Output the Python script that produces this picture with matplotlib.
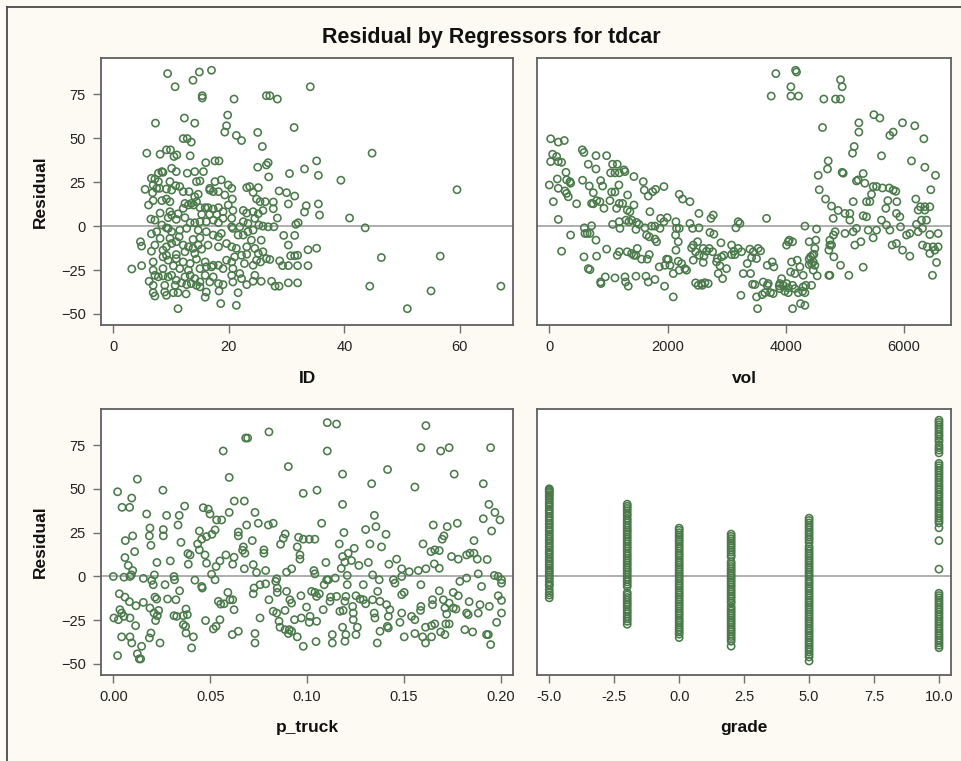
import matplotlib
matplotlib.use("Agg")
import matplotlib.pyplot as plt
from matplotlib.lines import Line2D

# ---------------- data ----------------
# Residual vs ID
ID_POINTS = [
    (9.4, 86.8), (14.9, 87.7), (17.0, 88.7), (13.8, 83.0), (10.7, 79.3), (34.1, 79.3), (15.4, 74.2), (15.4, 72.9),
    (20.9, 72.3), (26.5, 74.2), (27.1, 74.2), (28.4, 72.3), (19.8, 63.2), (12.3, 61.5), (14.1, 58.6), (7.3, 58.6),
    (19.6, 57.1), (19.3, 53.5), (31.3, 56.1), (21.3, 51.6), (22.2, 48.7), (25.0, 53.3), (12.1, 49.8), (12.8, 49.8),
    (13.5, 47.8), (25.8, 45.3), (5.8, 41.5), (8.1, 40.9), (9.2, 43.4), (9.9, 43.4), (10.5, 39.6), (11.0, 40.5),
    (13.3, 40.0), (44.8, 41.5), (59.5, 20.7), (39.4, 26.1), (40.9, 4.6), (43.6, -1.0), (46.4, -17.9), (56.6, -17.1),
    (44.4, -34.2), (55.0, -36.9), (50.9, -47.0), (67.1, -34.2),
    (35.2, 37.1), (33.1, 32.5), (30.5, 29.9), (35.5, 28.9), (25.0, 33.5), (26.5, 34.8), (26.8, 36.1), (16.0, 36.1),
    (17.6, 37.1), (18.3, 37.1), (26.9, 28.0), (28.7, 20.0), (30.0, 19.0), (31.4, 17.1), (30.3, 12.6), (33.4, 11.6),
    (33.1, 8.0), (35.5, 12.6), (35.7, 6.3), (31.6, 1.0), (32.0, 1.9), (31.4, -5.3), (29.5, -5.3), (30.3, -10.8),
    (30.7, -16.9), (31.4, -16.9), (31.9, -16.6), (33.7, -13.5), (35.2, -12.6), (28.8, -19.8), (29.3, -22.5),
    (30.3, -22.5), (31.9, -22.5), (33.7, -22.5), (27.4, -31.4), (28.0, -34.2), (28.7, -34.2), (30.3, -32.3),
    (31.9, -32.3), (25.6, -31.4), (24.2, -31.4), (28.4, 4.6), (27.7, 9.9), (27.7, 13.7),
    (8.4, 31.0), (7.8, 30.1), (8.6, 30.6), (10.1, 32.9), (10.9, 31.0), (12.8, 30.1), (14.1, 31.0), (15.6, 31.0),
    (6.6, 27.2), (7.2, 26.8), (7.8, 25.3), (6.9, 23.4), (7.5, 21.5), (9.8, 25.3), (10.8, 23.0), (11.5, 22.5),
    (14.4, 25.3), (15.0, 25.7), (16.7, 21.5), (17.6, 25.3), (18.7, 26.3), (19.9, 23.4), (20.5, 21.5), (17.3, 19.6),
    (5.5, 20.9), (6.8, 19.0), (8.0, 21.5), (9.2, 21.1), (10.1, 20.5), (12.1, 19.6), (13.1, 19.6), (14.7, 18.1),
    (14.1, 16.7), (12.4, 12.9), (13.5, 12.9), (14.4, 13.9), (6.9, 14.5), (8.4, 14.5), (9.2, 15.4), (9.8, 13.9),
    (6.1, 12.0), (16.7, 20.5), (18.2, 19.6), (19.3, 17.7), (20.6, 15.4), (19.9, 12.0), (23.1, 21.9), (23.6, 22.5),
    (25.1, 21.9), (24.2, 19.2), (24.8, 15.4), (25.4, 13.9), (26.3, 13.9),
    (8.1, 7.4), (9.8, 8.2), (10.1, 6.3), (11.2, 7.0), (12.1, 10.1), (13.0, 12.0), (13.9, 12.0), (15.0, 10.5),
    (15.9, 10.5), (16.4, 10.5), (17.3, 9.7), (18.2, 10.5), (15.3, 6.7), (16.7, 6.7), (17.9, 6.7), (19.0, 8.2),
    (20.7, 8.9), (22.5, 8.9), (23.1, 7.4), (24.2, 8.2), (25.1, 7.0), (25.9, 8.9), (6.5, 4.0),
    (7.2, 3.4), (8.4, 0.6), (9.2, -1.0), (9.5, 4.8), (10.9, 3.8), (12.4, 4.8), (13.3, 1.9), (14.1, 1.9),
    (15.0, 2.5), (16.1, 2.5), (17.3, 3.4), (18.2, 1.9), (19.0, 4.4), (20.5, 4.4), (20.5, -0.4), (21.9, -0.4),
    (22.5, 2.5), (23.3, 1.5), (24.5, 4.4), (25.2, 0.6), (25.9, 0.0), (26.8, -0.4), (27.8, -0.4),
    (6.6, -4.4), (7.5, -3.2), (9.5, -1.3), (10.1, -3.2), (11.5, -2.3), (12.7, -1.3), (14.7, -2.3), (16.1, -3.2),
    (17.3, -5.1), (18.2, -6.1), (18.7, -4.2), (20.7, -1.3), (21.6, -5.1), (22.5, -5.1), (23.3, -3.2), (24.2, -2.3),
    (23.9, -8.0), (25.6, -8.0), (8.1, -7.0), (9.8, -7.0), (11.4, -6.1), (13.8, -7.6), (15.0, -6.7),
    (4.7, -8.9), (4.9, -11.4), (6.6, -14.3), (7.2, -10.8), (8.6, -13.7), (9.2, -11.8), (10.1, -9.9), (10.9, -8.9),
    (12.1, -10.8), (13.0, -11.8), (13.8, -12.7), (14.7, -10.8), (15.3, -13.1), (16.4, -10.8), (18.2, -11.8),
    (19.6, -9.9), (20.5, -11.8), (21.3, -12.7), (23.1, -11.8), (24.5, -12.7), (25.1, -15.6), (25.9, -14.6),
    (23.1, -16.0), (22.2, -16.6), (9.2, -16.6), (10.9, -16.2), (12.4, -14.6), (14.1, -15.6),
    (3.2, -24.4), (4.9, -22.5), (6.9, -20.4), (8.6, -17.5), (9.5, -19.4), (10.9, -18.5), (12.1, -20.4),
    (13.3, -21.3), (14.4, -18.8), (15.9, -20.4), (17.3, -22.3), (18.2, -22.3), (19.6, -19.4), (20.5, -20.4),
    (21.0, -17.5), (22.7, -21.3), (24.2, -22.3), (24.8, -19.4), (25.5, -20.4), (26.5, -18.5), (27.1, -19.0),
    (6.9, -25.1), (8.6, -24.2), (10.4, -22.6), (11.5, -24.2), (13.0, -25.1), (15.0, -24.2), (16.1, -23.2),
    (17.0, -23.2), (19.0, -24.2), (20.7, -24.2),
    (6.2, -31.4), (7.2, -28.0), (7.8, -28.9), (8.6, -28.3), (9.5, -28.9), (10.1, -28.0), (10.9, -30.8),
    (11.8, -32.3), (12.4, -28.9), (13.3, -28.0), (14.1, -29.9), (15.0, -31.8), (15.9, -28.0), (17.3, -28.9),
    (18.2, -32.7), (19.0, -33.3), (20.5, -28.0), (21.9, -27.0), (23.1, -33.3), (24.5, -28.0), (6.9, -33.7),
    (8.9, -33.7), (10.7, -33.7), (12.7, -33.3), (13.5, -32.7), (14.4, -33.7), (16.7, -31.8), (20.7, -31.8),
    (22.2, -29.9),
    (6.9, -37.9), (7.2, -39.8), (8.9, -37.5), (9.2, -39.4), (10.4, -37.9), (11.2, -37.9), (12.6, -38.6),
    (15.0, -34.6), (16.1, -37.5), (15.9, -40.5), (18.3, -36.9), (21.6, -37.9),
    (11.2, -47.0), (18.6, -44.1), (21.3, -45.1),
]

# Residual vs vol
VOL_POINTS = [
    (3831, 86.8), (4164, 88.7), (4180, 87.7), (4085, 79.3), (3752, 74.0), (4085, 74.0), (4214, 74.0),
    (4924, 83.3), (4952, 79.3), (4642, 72.3), (4840, 72.3), (4924, 72.3),
    (4620, 56.1), (5234, 58.8), (5234, 53.5), (5488, 63.4), (5589, 61.5), (5972, 58.8), (6180, 57.1),
    (6333, 49.7), (5758, 51.6), (5814, 53.5), (5155, 45.3), (5127, 41.5), (5617, 40.0), (6124, 37.1),
    (4716, 37.1), (4704, 32.5), (4547, 28.9), (4952, 30.6), (4969, 30.1), (6350, 33.5), (6530, 28.9),
    (4564, 20.7), (4671, 15.4), (5307, 29.9), (5194, 25.7), (5223, 26.3), (5335, 24.4), (5476, 22.5),
    (5533, 22.5), (5634, 21.7), (5746, 21.7), (5814, 20.5), (5859, 19.8), (6451, 20.7), (5448, 18.1),
    (5364, 13.9), (5420, 13.9), (5138, 13.9), (5724, 14.5), (5876, 13.9), (6197, 15.4), (6276, 11.0),
    (6350, 11.0), (6434, 11.0), (6237, 9.1), (6350, 9.1), (4772, 11.4), (4884, 8.9), (4800, 4.4),
    (5000, 7.2), (5082, 7.2), (5082, 3.4), (5307, 5.9), (5364, 5.3), (5690, 10.1), (5870, 7.2),
    (5927, 5.3), (5617, 3.4), (5701, 0.6), (5938, -0.4), (6209, 1.0), (6293, 3.4), (6378, 3.4),
    (6310, -1.3), (6040, -5.1), (6096, -4.2), (6434, -4.8), (6575, -4.2), (6237, -3.2), (5476, -6.7),
    (5392, -2.3), (5533, -2.3), (5758, -2.3), (5138, -3.2), (5194, -1.3), (5000, -4.2), (4833, -3.2),
    (4805, -5.1), (4744, -8.0), (5166, -10.8), (5268, -8.9), (5797, -10.8), (5870, -9.9), (5972, -13.7),
    (6310, -10.8), (6389, -11.8), (6490, -11.8), (6575, -11.8), (6434, -15.6), (6519, -13.7),
    (6096, -17.1), (6547, -20.7), (6479, -28.0), (5307, -23.4), (5065, -28.0), (4924, -22.3),
    (4727, -13.7), (4744, -10.8), (4772, -10.8), (4811, -17.5), (4727, -28.0), (4744, -28.0),
    (23, 49.7), (152, 47.8), (254, 48.7), (56, 40.9), (124, 39.6), (23, 36.7), (152, 36.7), (208, 36.3),
    (282, 30.6), (0, 23.4), (135, 26.8), (293, 26.3), (349, 25.3), (360, 24.4), (152, 21.5), (265, 20.0),
    (293, 18.6), (321, 16.7), (68, 13.9), (462, 12.7), (152, 3.8), (208, -14.3), (360, -5.1),
    (558, 43.4), (586, 41.9), (659, 35.2), (789, 40.1), (969, 40.1), (789, 32.5), (563, 26.1), (676, 22.8),
    (744, 19.0), (868, 25.9), (901, 22.8), (800, 14.5), (856, 13.9), (715, 12.9), (744, 12.7), (924, 10.1),
    (1025, 14.5), (1070, 35.2), (1149, 35.2), (1037, 30.3), (1110, 30.3), (1183, 30.3), (1262, 32.0),
    (1279, 31.0), (1177, 23.4), (1054, 19.4), (1110, 19.4), (1138, 10.1), (1183, 12.9), (1239, 12.9),
    (1318, 9.1), (1363, 8.2), (1324, 17.7), (1431, 28.2), (1589, 25.3), (1606, 20.5), (1673, 17.1),
    (1747, 19.6), (1797, 20.9), (1701, 8.2), (1938, 22.5), (1431, 12.0), (1392, 3.4), (1476, 2.1),
    (1516, 1.0), (1465, -1.9), (1617, -1.0), (1730, 0.0), (1786, 0.0), (1871, -1.3), (1882, 4.4),
    (1938, 2.5), (1994, 4.8), (592, -1.0), (642, -4.2), (603, -4.2), (715, 0.2), (687, -4.2), (1070, 1.0),
    (1183, 2.5), (1194, -1.3), (1346, 2.5), (1296, 3.4), (1645, -5.1), (1690, -6.1), (1786, -7.4),
    (1814, -8.9), (789, -8.0), (586, -17.5), (800, -17.1), (969, -13.1), (1149, -16.6), (1183, -14.6),
    (1318, -14.6), (1392, -15.6), (1431, -16.6), (1487, -12.7), (1465, -16.6), (1561, -18.8), (1656, -18.8),
    (1690, -16.2), (659, -24.2), (687, -24.8), (868, -31.8), (873, -32.7), (947, -28.9), (1110, -29.5),
    (1279, -28.9), (1290, -31.8), (1335, -34.2), (1465, -28.5), (1634, -28.5), (1673, -31.8), (1786, -30.4),
    (1949, -34.2), (1859, -23.2), (1955, -22.3), (2011, -19.0), (2096, -40.3), (2141, 2.5), (2197, 18.1),
    (2254, 15.4), (2378, 13.9), (2152, -1.3), (2197, -1.3), (2135, -5.1), (2180, -8.9), (2141, -13.7),
    (1983, -18.8), (2040, -22.3), (2096, -27.0), (2180, -20.0), (2237, -21.3), (2293, -24.2), (2321, -25.1),
    (2197, -25.1),
    (2378, 1.5), (2423, -1.3), (2530, 7.2), (2530, -1.0), (2733, 4.4), (2772, 6.3), (2716, -3.6),
    (2783, -4.6), (2507, -8.9), (2406, -12.4), (2434, -10.8), (2473, -14.6), (2434, -19.4), (2603, -12.7),
    (2659, -14.3), (2535, -16.6), (2614, -17.1), (2603, -20.7), (2704, -12.7), (2761, -14.6), (2902, -9.5),
    (2828, -20.4), (2885, -22.6), (2840, -18.5), (2913, -17.5), (2952, -16.6), (2997, -24.2), (2930, -29.9),
    (2857, -27.0), (2473, -32.3), (2518, -33.7), (2575, -32.7), (2631, -32.2), (2687, -32.7), (2586, -33.7),
    (3082, -10.8), (3121, -14.3), (3194, -12.7), (3251, -14.6), (3082, -16.2), (3138, -16.2), (3155, -1.0),
    (3194, 2.5), (3223, 1.5), (3392, -13.1), (3448, -14.6), (3532, -12.7), (3572, -14.1), (3420, -17.9),
    (3504, -18.5), (3347, -21.3), (3279, -27.0), (3403, -27.0), (3437, -33.1), (3476, -33.3), (3240, -39.4),
    (3504, -40.3), (3521, -47.0), (3600, -39.0), (3645, -37.9), (3685, -33.7), (3617, -31.8), (3702, -32.7),
    (3685, -22.3), (3769, -20.4), (3797, -23.2), (3673, 4.4), (3740, -37.9), (3786, -38.4), (3899, -35.6),
    (3899, -32.7), (3927, -29.9), (3887, -34.0), (3955, -33.7), (4012, -32.7), (4040, -35.2), (3983, -37.1),
    (4040, -37.9), (4113, -33.7), (4153, -35.6), (4209, -37.9), (4282, -37.1), (4322, -37.9), (4248, -44.1),
    (4322, -45.1), (4113, -47.0), (4080, -26.1), (4153, -27.0), (4096, -20.4), (4192, -19.4), (4237, -23.2),
    (4293, -28.0), (4394, -21.9), (4434, -21.3), (4462, -20.4), (4417, -17.5), (4451, -16.6), (4474, -16.0),
    (4394, -18.8), (4490, -22.3), (4338, -33.7), (4293, -34.6), (4434, -33.7), (4462, -25.1), (4530, -28.3),
    (4490, -12.7), (4507, -8.0), (4394, -8.9), (4519, -1.7), (4322, 0.0), (4012, -10.8), (4040, -8.9),
    (4113, -8.9), (4057, -8.0),
]

# Residual vs p_truck
PTRUCK_POINTS = [
    (0.1104, 87.9), (0.1152, 87.1), (0.1613, 86.2), (0.0683, 79.1), (0.0693, 79.1), (0.0803, 82.6),
    (0.0567, 71.7), (0.1104, 71.7), (0.1587, 73.6), (0.1689, 71.7), (0.1733, 73.6), (0.1947, 73.6),
    (0.0903, 62.8), (0.0124, 55.6), (0.0598, 56.6), (0.1183, 58.5), (0.1415, 61.1), (0.1333, 53.0),
    (0.1759, 58.5), (0.1909, 53.0), (0.1556, 51.1), (0.0022, 48.4), (0.0256, 49.3), (0.0980, 47.5),
    (0.1051, 49.3), (0.0095, 44.8), (0.0045, 39.5), (0.0084, 39.5), (0.0676, 43.1), (0.0624, 43.1),
    (0.1183, 41.2), (0.1938, 41.2), (0.1969, 36.6), (0.1995, 32.3), (0.1909, 33.0), (0.0172, 35.7),
    (0.0275, 34.9), (0.0340, 34.9), (0.0368, 40.2), (0.0464, 39.3), (0.0490, 38.5), (0.0499, 35.7),
    (0.0598, 36.6), (0.0731, 36.6), (0.0533, 32.3), (0.0559, 32.3), (0.1347, 34.9), (0.1075, 30.4),
    (0.0688, 29.4), (0.0748, 30.4), (0.0800, 29.4), (0.0825, 30.4), (0.1355, 28.5), (0.1302, 26.8),
    (0.1651, 29.4), (0.1723, 28.5), (0.1775, 30.4), (0.1952, 26.0), (0.0189, 27.7), (0.0258, 26.8),
    (0.0258, 23.2), (0.0186, 23.2), (0.0194, 17.8), (0.0100, 23.2), (0.0062, 20.5), (0.0334, 29.4),
    (0.0349, 19.5), (0.0444, 26.0), (0.0456, 21.3), (0.0481, 22.8), (0.0525, 26.6), (0.0509, 24.1),
    (0.0645, 25.4), (0.0645, 23.2), (0.0717, 20.5), (0.0887, 24.3), (0.0877, 21.8), (0.0863, 18.4),
    (0.0956, 22.4), (0.0980, 21.3), (0.1011, 21.3), (0.1040, 21.3), (0.1190, 25.1), (0.1407, 24.1),
    (0.1598, 18.6), (0.1861, 20.5), (0.1659, 15.2), (0.1697, 21.3), (0.1706, 23.2), (0.1384, 16.9),
    (0.1324, 18.6), (0.1166, 18.6), (0.1243, 16.1), (0.0949, 16.9), (0.0671, 16.9), (0.0667, 15.0),
    (0.0679, 13.3), (0.0110, 14.2), (0.0385, 13.1), (0.0396, 12.3), (0.0435, 18.6), (0.0444, 15.2),
    (0.0581, 12.3), (0.0623, 11.0), (0.0777, 15.2), (0.0777, 13.3), (0.0963, 12.3), (0.0963, 9.9),
    (0.1212, 13.3), (0.1183, 11.4), (0.1745, 11.4), (0.1780, 9.9), (0.1823, 12.3), (0.1840, 13.3),
    (0.1861, 13.3), (0.1878, 9.9), (0.1929, 9.7), (0.1639, 14.2), (0.1682, 14.8), (0.0060, 10.8),
    (0.0077, 6.3), (0.0100, 3.4), (0.0225, 8.0), (0.0294, 8.9), (0.0387, 7.0), (0.0473, 12.3),
    (0.0481, 7.6), (0.0550, 8.9), (0.0530, 5.7), (0.0616, 7.0), (0.0676, 4.4), (0.0722, 6.8),
    (0.0739, 2.3), (0.0786, 3.4), (0.0894, 2.5), (0.0920, 4.4), (0.1035, 3.4), (0.1040, 1.5),
    (0.1097, 8.0), (0.1195, 8.2), (0.1176, 4.6), (0.1229, 9.1), (0.1267, 6.3), (0.1316, 8.0),
    (0.1422, 7.0), (0.1462, 9.9), (0.1488, 4.4), (0.1527, 2.7), (0.1574, 3.4), (0.1613, 4.4),
    (0.1656, 7.2), (0.1682, 4.7), (0.1883, 1.5), (0.0000, 0.0), (0.0055, -0.4), (0.0086, 0.0),
    (0.0093, 0.9), (0.0155, -1.1), (0.0198, -2.3), (0.0212, 0.9), (0.0313, 0.0), (0.0316, -1.9),
    (0.0421, -2.1), (0.0507, 1.3), (0.0525, -1.9), (0.0843, -1.3), (0.0838, -2.8), (0.1101, -1.9),
    (0.1145, -0.9), (0.1207, 0.6), (0.1338, 0.9), (0.1372, -1.9), (0.1445, -1.9), (0.1453, -3.8),
    (0.1488, 0.0), (0.1966, 0.6), (0.1986, 0.0), (0.2003, -1.9), (0.1823, -0.9), (0.1788, -2.8),
    (0.0031, -9.9), (0.0060, -11.8), (0.0083, -14.4), (0.0117, -16.7), (0.0155, -14.8), (0.0034, -19.0),
    (0.0043, -20.9), (0.0055, -22.8), (0.0003, -23.7), (0.0026, -24.7), (0.0086, -23.7), (0.0115, -28.1),
    (0.0043, -34.5), (0.0086, -34.5), (0.0095, -38.0), (0.0022, -45.2), (0.0124, -44.2), (0.0134, -47.1),
    (0.0141, -47.1), (0.0146, -39.9), (0.0186, -35.1), (0.0194, -32.3), (0.0241, -38.0), (0.0189, -18.0),
    (0.0210, -20.9), (0.0234, -19.4), (0.0227, -22.4), (0.0215, -11.8), (0.0224, -12.9), (0.0206, -4.7),
    (0.0267, -4.7), (0.0280, -12.9), (0.0218, -25.2), (0.0313, -22.4), (0.0327, -22.8), (0.0361, -22.4),
    (0.0375, -18.6), (0.0382, -21.8), (0.0342, -8.2), (0.0323, -13.3), (0.0361, -27.5), (0.0373, -28.5),
    (0.0375, -32.3), (0.0413, -34.5), (0.0404, -40.8), (0.0456, -5.7), (0.0459, -6.6), (0.0476, -25.2),
    (0.0516, -30.0), (0.0530, -28.5), (0.0550, -24.7), (0.0542, -14.2), (0.0554, -15.8), (0.0571, -15.6),
    (0.0591, -9.1), (0.0616, -13.3), (0.0602, -13.3), (0.0623, -19.0), (0.0614, -33.2), (0.0645, -31.3),
    (0.0726, -6.6), (0.0722, -9.9), (0.0757, -4.7), (0.0786, -4.2), (0.0757, -23.7), (0.0731, -32.6),
    (0.0731, -38.0), (0.0803, -13.3), (0.0846, -6.6), (0.0846, -9.1), (0.0825, -19.9), (0.0843, -20.9),
    (0.0855, -25.6), (0.0860, -29.0), (0.0886, -30.4), (0.0894, -8.5), (0.0911, -13.3), (0.0920, -15.2),
    (0.0886, -19.4), (0.0908, -30.4), (0.0920, -31.3), (0.0903, -32.6), (0.0949, -34.5), (0.0980, -39.9),
    (0.0968, -11.0), (0.0997, -17.5), (0.0935, -24.7), (0.0970, -23.7), (0.1015, -22.8), (0.1011, -26.2),
    (0.1023, -8.5), (0.1040, -9.1), (0.1049, -11.4), (0.1063, -9.9), (0.1049, -25.6), (0.1046, -37.2),
    (0.1083, -19.0), (0.1088, -4.7), (0.1109, -1.9), (0.1118, -14.2), (0.1121, -11.8), (0.1152, -11.4),
    (0.1130, -33.2), (0.1130, -38.0), (0.1169, -19.9), (0.1186, -19.4), (0.1195, -14.2), (0.1200, -11.4),
    (0.1207, -4.7), (0.1235, -17.1), (0.1238, -20.9), (0.1238, -24.7), (0.1183, -29.0), (0.1200, -33.2),
    (0.1195, -37.0), (0.1252, -33.2), (0.1259, -29.0), (0.1252, -11.0), (0.1273, -12.9), (0.1290, -13.3),
    (0.1302, -15.6), (0.1290, -4.7), (0.1338, -13.3), (0.1346, -20.9), (0.1350, -23.7), (0.1364, -8.5),
    (0.1376, -14.2), (0.1410, -16.1), (0.1427, -19.0), (0.1419, -22.8), (0.1414, -28.5), (0.1419, -29.4),
    (0.1376, -31.3), (0.1362, -38.0), (0.1488, -10.4), (0.1501, -9.1), (0.1488, -20.9), (0.1479, -26.2),
    (0.1501, -34.5), (0.1556, -32.6), (0.1539, -22.8), (0.1556, -24.7), (0.1587, -17.1), (0.1585, -19.4),
    (0.1587, -4.7), (0.1596, -34.5), (0.1611, -38.0), (0.1642, -34.5), (0.1611, -29.0), (0.1642, -28.1),
    (0.1659, -27.1), (0.1647, -13.3), (0.1647, -16.1), (0.1682, -8.2), (0.1703, -13.3), (0.1711, -18.0),
    (0.1720, -21.5), (0.1716, -27.1), (0.1733, -27.1), (0.1689, -31.7), (0.1711, -33.2), (0.1733, -15.2),
    (0.1754, -18.0), (0.1768, -18.6), (0.1754, -9.1), (0.1780, -11.0), (0.1814, -30.4), (0.1854, -31.7),
    (0.1823, -20.9), (0.1831, -21.8), (0.1836, -14.4), (0.1883, -20.9), (0.1892, -16.1), (0.1900, -5.7),
    (0.1926, -33.2), (0.1935, -33.2), (0.1947, -38.9), (0.1940, -17.1), (0.1978, -26.2), (0.1986, -11.0),
    (0.2003, -13.7), (0.2003, -20.9), (0.2003, -3.8),
]

# Residual vs grade: one list of residuals per grade level
GRADE_LEVELS = [-5, -2, 0, 2, 5, 10]
RES_GRADE_M5 = [50.1, 49.4, 48.6, 47.9, 46.8, 45.9, 44.7, 43.6, 42.1, 41.0, 39.8, 38.3, 37.2, 35.9, 34.4,
                33.3, 31.9, 30.5, 29.4, 28.0, 26.7, 25.6, 24.1, 22.9, 21.4, 20.3, 19.0, 17.6, 16.5, 15.1,
                13.8, 12.6, 11.1, 10.0, 8.7, 7.3, 6.2, 4.8, 3.5, 2.4, 1.0, -0.2, -1.5, -3.1, -4.6, -5.4,
                -7.5, -9.3, -10.6, -12.2]
RES_GRADE_M2 = [41.3, 40.1, 38.9, 37.6, 36.0, 34.8, 33.1, 31.9, 30.5, 29.2, 27.8, 26.5, 25.4, 24.0, 22.6,
                21.3, 19.9, 18.6, 17.2, 15.9, 14.5, 13.0, 11.8, 10.4, 9.1, 7.7, 6.5, 5.0, 3.8, 2.5, 1.1,
                -0.4, -1.8, -3.1, -4.5, -5.8, -9.3, -10.6, -12.0, -13.4, -14.7, -16.0, -17.3, -18.8,
                -20.1, -21.4, -22.9, -24.2, -25.6, -27.3]
RES_GRADE_0 = [27.6, 26.4, 25.0, 23.7, 22.5, 21.1, 20.0, 18.6, 17.3, 16.0, 14.6, 13.2, 12.0, 10.6, 9.3,
               7.9, 6.6, 5.3, 4.0, 2.7, 1.4, 0.1, -1.3, -2.6, -3.9, -5.2, -6.5, -7.9, -9.2, -10.5, -11.8,
               -13.2, -14.5, -15.8, -17.1, -18.5, -19.8, -21.1, -22.4, -23.8, -25.1, -26.4, -27.7, -29.1,
               -30.4, -31.7, -33.0, -34.9]
RES_GRADE_2 = [24.2, 22.9, 21.6, 20.3, 19.0, 17.8, 16.5, 15.1, 13.9, 12.4, 11.2, 8.3, 7.0, 5.7, 4.4, 3.1,
               1.8, 0.5, -0.8, -2.1, -3.4, -4.7, -6.0, -7.4, -8.7, -10.0, -11.3, -12.6, -14.1, -15.2,
               -17.2, -18.5, -19.8, -21.1, -22.4, -23.7, -25.0, -26.3, -27.6, -29.0, -30.3, -31.6, -32.9,
               -34.3, -35.6, -37.0, -39.8]
RES_GRADE_5 = [33.3, 32.0, 30.6, 29.3, 27.9, 26.6, 25.2, 23.9, 22.4, 21.2, 19.5, 17.1, 15.8, 14.5, 13.1,
               11.8, 10.5, 9.1, 7.8, 6.5, 5.1, 3.8, 2.5, 1.1, -0.2, -1.6, -2.9, -4.2, -5.6, -6.9, -8.2,
               -9.6, -10.9, -12.3, -13.6, -14.9, -16.3, -17.6, -19.0, -20.3, -21.6, -23.0, -24.3, -25.6,
               -27.0, -28.3, -29.7, -31.0, -32.3, -33.7, -35.0, -36.4, -37.7, -39.0, -40.4, -41.7, -43.1,
               -44.6, -46.0, -48.3]
RES_GRADE_10 = [89.3, 88.0, 86.7, 85.4, 84.1, 82.6, 81.2, 80.0, 78.4, 77.1, 75.0, 73.6, 72.2, 70.6,
                64.6, 63.3, 62.0, 60.6, 59.2, 57.9, 56.5, 55.1, 53.8, 52.3, 51.0, 49.7, 48.3, 46.9, 45.6,
                44.2, 42.8, 41.5, 40.1, 38.8, 37.3, 36.0, 34.6, 33.3, 31.9, 30.6, 27.8, 20.5, 4.2,
                -9.6, -10.9, -12.2, -13.5, -14.9, -16.2, -17.6, -18.9, -20.3, -21.6, -23.0, -24.3, -25.7,
                -27.1, -28.4, -29.8, -31.1, -32.5, -33.8, -35.2, -36.5, -37.9, -39.3, -40.7]
GRADE_RESIDUALS = [RES_GRADE_M5, RES_GRADE_M2, RES_GRADE_0, RES_GRADE_2, RES_GRADE_5, RES_GRADE_10]

TITLE = "Residual by Regressors for tdcar"
Y_TICKS = [-50, -25, 0, 25, 50, 75]
ID_TICKS = [0, 20, 40, 60]
VOL_TICKS = [0, 2000, 4000, 6000]
PTRUCK_TICKS = [0.00, 0.05, 0.10, 0.15, 0.20]
GRADE_TICKS = [-5.0, -2.5, 0.0, 2.5, 5.0, 7.5, 10.0]

# ---------------- style ----------------
BG = "#fcfaf2"
MARKER = "#4a7a4a"
SPINE = "#606060"
FONT = ["Liberation Sans", "DejaVu Sans"]
plt.rcParams["font.family"] = FONT

fig = plt.figure(figsize=(9.62, 7.61), dpi=100, facecolor=BG)

# figure frame (left and top edges)
fig.add_artist(Line2D([7 / 962, 7 / 962], [0, 1 - 7 / 761], transform=fig.transFigure,
                      color="#4a4a4a", lw=1.3))
fig.add_artist(Line2D([7 / 962, 1], [1 - 7 / 761, 1 - 7 / 761], transform=fig.transFigure,
                      color="#4a4a4a", lw=1.3))

fig.text(0.5104, 1 - 37 / 761, TITLE, ha="center", va="center", fontsize=15.5,
         fontweight="bold", color="#111111")

pos = {
    "tl": [0.1050, 0.5729, 0.4286, 0.3505],
    "tr": [0.5587, 0.5729, 0.4298, 0.3505],
    "bl": [0.1050, 0.1130, 0.4286, 0.3491],
    "br": [0.5587, 0.1130, 0.4298, 0.3491],
}


def unzip(points):
    xs = [p[0] for p in points]
    ys = [p[1] for p in points]
    return xs, ys


def style(ax, xlim, xticks, xticklabels, xlabel, show_y):
    ax.set_facecolor("white")
    ax.set_xlim(*xlim)
    ax.set_ylim(-56.3, 95.5)
    ax.axhline(0, color="#a8a8a8", lw=1.3, zorder=1)
    for s in ax.spines.values():
        s.set_color(SPINE)
        s.set_linewidth(1.3)
    ax.set_xticks(xticks)
    ax.set_xticklabels(xticklabels)
    ax.tick_params(axis="both", direction="out", length=6, width=1.0, color="#707070",
                   labelsize=10.5, labelcolor="#222222", pad=5)
    ax.tick_params(axis="x", top=False)
    ax.set_xlabel(xlabel, fontsize=12.5, fontweight="bold", va="center", color="#111111")
    ax.xaxis.set_label_coords(0.5, -0.199)
    if show_y:
        ax.set_yticks(Y_TICKS)
        ax.set_ylabel("Residual", fontsize=12.5, fontweight="bold", va="center", color="#111111")
        ax.yaxis.set_label_coords(-0.148, 0.5)
    else:
        ax.set_yticks([])


def scatter(ax, xs, ys):
    ax.scatter(xs, ys, s=27, facecolors="none", edgecolors=MARKER, linewidths=1.15, zorder=3)


ax1 = fig.add_axes(pos["tl"])
x, y = unzip(ID_POINTS)
scatter(ax1, x, y)
style(ax1, (-2.13, 69.25), ID_TICKS, [str(t) for t in ID_TICKS], "ID", True)

ax2 = fig.add_axes(pos["tr"])
x, y = unzip(VOL_POINTS)
scatter(ax2, x, y)
style(ax2, (-200, 6791), VOL_TICKS, [str(t) for t in VOL_TICKS], "vol", False)

ax3 = fig.add_axes(pos["bl"])
x, y = unzip(PTRUCK_POINTS)
scatter(ax3, x, y)
style(ax3, (-0.00635, 0.2064), PTRUCK_TICKS, [f"{t:.2f}" for t in PTRUCK_TICKS], "p_truck", True)

ax4 = fig.add_axes(pos["br"])
gx, gy = [], []
for lvl, res in zip(GRADE_LEVELS, GRADE_RESIDUALS):
    gx.extend([lvl] * len(res))
    gy.extend(res)
scatter(ax4, gx, gy)
style(ax4, (-5.454, 10.46), GRADE_TICKS, [f"{t:.1f}" for t in GRADE_TICKS], "grade", False)

fig.savefig("out.png", dpi=100, facecolor=BG)
